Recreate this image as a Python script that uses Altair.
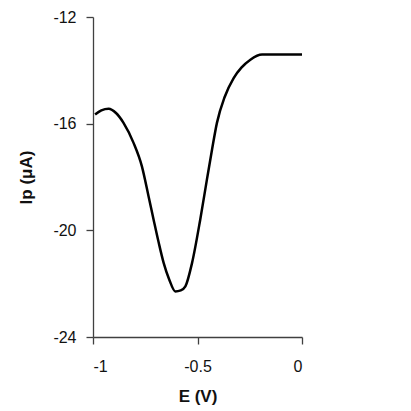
import altair as alt
import pandas as pd

E_V = [-0.99, -0.96, -0.925, -0.89, -0.854, -0.806, -0.766, -0.734, -0.71, -0.686,
       -0.662, -0.635, -0.606, -0.58, -0.558, -0.526, -0.487, -0.455, -0.43, -0.407,
       -0.37, -0.327, -0.29, -0.247, -0.191, -0.1, 0.0]
Ip_uA = [-15.66, -15.5, -15.44, -15.6, -15.97, -16.72, -17.6, -18.73, -19.6, -20.45,
         -21.22, -21.85, -22.29, -22.25, -22.1, -21.22, -19.6, -18.1, -16.95, -15.97,
         -15.0, -14.29, -13.9, -13.6, -13.41, -13.41, -13.41]

x_ticks = [-1, -0.5, 0]
y_ticks = [-24, -20, -16, -12]

df = pd.DataFrame({"E": E_V, "Ip": Ip_uA})

chart = alt.Chart(df).mark_line(color="black", strokeWidth=2.5, interpolate="monotone").encode(
    x=alt.X("E:Q", scale=alt.Scale(domain=[-1, 0], nice=False, zero=False),
            axis=alt.Axis(title="E (V)", values=x_ticks, labelExpr="'' + datum.value",
                          grid=False, labelPadding=14, titlePadding=14)),
    y=alt.Y("Ip:Q", scale=alt.Scale(domain=[-24, -12], nice=False, zero=False),
            axis=alt.Axis(title="Ip (μA)", values=y_ticks, labelExpr="'' + datum.value",
                          grid=False, labelPadding=10, titlePadding=17)),
).properties(
    width=209, height=320,
    autosize=alt.AutoSizeParams(type="none"),
    padding={"left": 93, "top": 17, "right": 109, "bottom": 74},
).configure_view(stroke=None).configure_axis(
    domainColor="#404040", tickColor="#404040", tickSize=7, domainWidth=1.3, tickWidth=1.3,
    labelFont="Liberation Sans", labelFontSize=16, labelColor="#111",
    titleFont="Liberation Sans", titleFontSize=17, titleFontWeight="bold", titleColor="#111",
)

chart.save("out.html", embed_options={"renderer": "svg", "actions": False})
